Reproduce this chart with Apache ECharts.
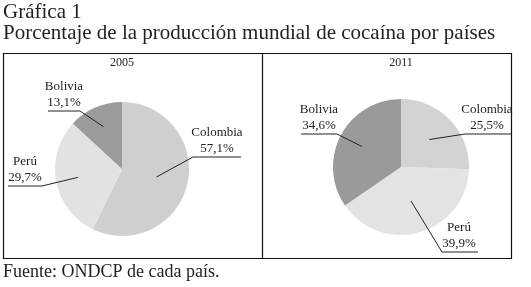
<!DOCTYPE html>
<html>
<head>
<meta charset="utf-8">
<script src="https://cdn.jsdelivr.net/npm/echarts@6/dist/echarts.min.js"></script>
<style>
  html, body { margin: 0; padding: 0; background: #fff; }
  #chart { width: 531px; height: 287px; }
</style>
</head>
<body>
<div id="chart"></div>
<script>
// data
var countries = ['Colombia', 'Perú', 'Bolivia'];
var years = ['2005', '2011'];
var share2005 = [57.1, 29.7, 13.1];
var share2011 = [25.5, 39.9, 34.6];
var sliceColors2005 = ['#cfcfcf', '#e2e2e2', '#9b9b9b'];
var sliceColors2011 = ['#d2d2d2', '#e3e3e3', '#9a9a9a'];

// where each label sits: [inner fraction of radius, underline start x, underline end x, underline y, text centre x]
var labelSpots = [
    [
        [0.53, 193, 241, 157, 217],
        [0.67, 42, 8, 186, 25],
        [0.69, 80, 48, 111, 64]
    ],
    [
        [0.58, 465, 511, 134, 487],
        [0.52, 442, 478, 252, 459],
        [0.65, 337, 301, 134, 319]
    ]
];
var pieCenters = [[122, 169], [401, 167]];
var pieRadius = [67, 68];

var serif = '"Liberation Serif", "DejaVu Serif", serif';

// slices only
var make_pie = function(idx, values, colors) {
    return {
        type: 'pie',
        center: pieCenters[idx],
        radius: pieRadius[idx],
        startAngle: 90,
        clockwise: true,
        silent: true,
        z: 2,
        data: countries.map(function(c, i) {
            return { name: c, value: values[i], itemStyle: { color: colors[i] } };
        }),
        itemStyle: { borderWidth: 0 },
        label: { show: false },
        labelLine: { show: false }
    };
};

// same pie, see-through, carrying labels and leader lines above the slices
var make_labels = function(idx, values) {
    var cx = pieCenters[idx][0], cy = pieCenters[idx][1];
    var r = pieRadius[idx];
    var total = values.reduce(function(a, b) { return a + b; }, 0);
    var mids = [];
    var acc = 0;
    values.forEach(function(v) {
        mids.push((acc + v / 2) / total * 2 * Math.PI);
        acc += v;
    });
    return {
        type: 'pie',
        center: [cx, cy],
        radius: r,
        startAngle: 90,
        clockwise: true,
        silent: true,
        z: 5,
        data: countries.map(function(c, i) {
            return { name: c, value: values[i] };
        }),
        itemStyle: { color: 'rgba(0,0,0,0)', borderWidth: 0 },
        label: {
            show: true,
            position: 'outside',
            width: 90,
            overflow: 'none',
            formatter: function(p) {
                return p.name + '\n' + p.value.toFixed(1).replace('.', ',') + '%';
            },
            fontFamily: serif,
            fontSize: 13,
            lineHeight: 16,
            color: '#222',
            align: 'center'
        },
        labelLine: {
            show: true,
            minTurnAngle: 0,
            maxSurfaceAngle: 180,
            lineStyle: { color: '#222', width: 1 }
        },
        labelLayout: function(params) {
            var spot = labelSpots[idx][params.dataIndex];
            var a = mids[params.dataIndex];
            var inner = [cx + Math.sin(a) * r * spot[0], cy - Math.cos(a) * r * spot[0]];
            return {
                x: spot[4],
                y: spot[3],
                align: 'center',
                verticalAlign: 'bottom',
                labelLinePoints: [inner, [spot[1], spot[3]], [spot[2], spot[3]]]
            };
        }
    };
};

var chart = echarts.init(document.getElementById('chart'));
chart.setOption({
    animation: false,
    title: [{
        text: 'Gráfica 1\nPorcentaje de la producción mundial de cocaína por países',
        left: 3,
        top: 2,
        padding: 0,
        textStyle: { fontFamily: serif, fontSize: 21, fontWeight: 'normal', color: '#222', lineHeight: 21 }
    }, {
        text: years[0],
        left: 122,
        top: 57,
        padding: 0,
        textAlign: 'center',
        textStyle: { fontFamily: serif, fontSize: 12, fontWeight: 'normal', color: '#222' }
    }, {
        text: years[1],
        left: 401,
        top: 57,
        padding: 0,
        textAlign: 'center',
        textStyle: { fontFamily: serif, fontSize: 12, fontWeight: 'normal', color: '#222' }
    }, {
        text: 'Fuente: ONDCP de cada país.',
        left: 3,
        top: 263,
        padding: 0,
        textStyle: { fontFamily: serif, fontSize: 18, fontWeight: 'normal', color: '#222' }
    }],
    graphic: [{
        type: 'rect',
        shape: { x: 3.5, y: 53.5, width: 508, height: 205 },
        style: { fill: 'none', stroke: '#111', lineWidth: 1.2 },
        z: 0
    }, {
        type: 'line',
        shape: { x1: 262.5, y1: 53.5, x2: 262.5, y2: 258.5 },
        style: { stroke: '#111', lineWidth: 1.2 },
        z: 0
    }],
    series: [
        make_pie(0, share2005, sliceColors2005),
        make_pie(1, share2011, sliceColors2011),
        make_labels(0, share2005),
        make_labels(1, share2011)
    ]
});
</script>
</body>
</html>
